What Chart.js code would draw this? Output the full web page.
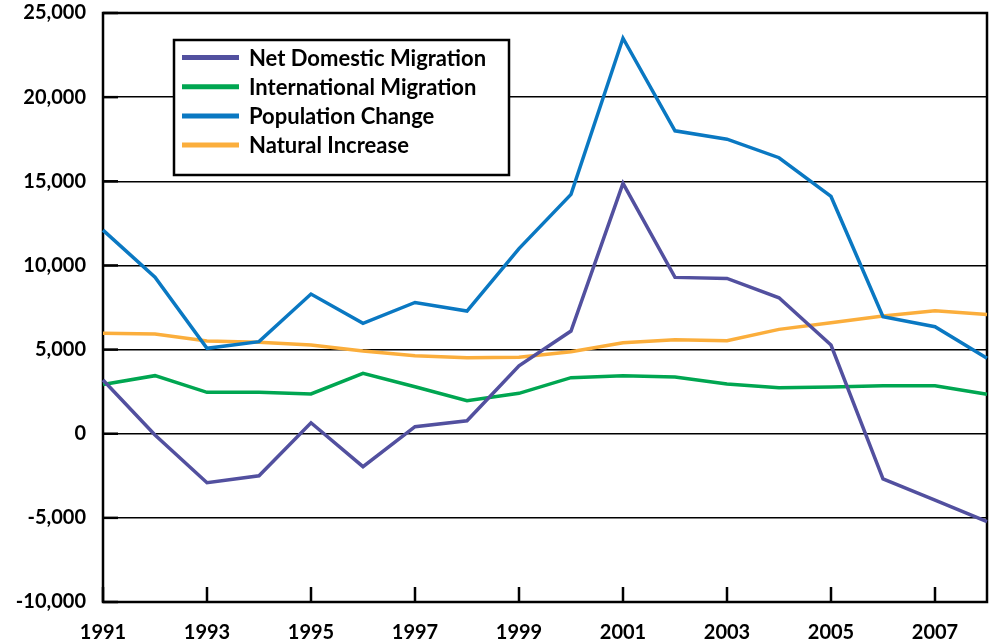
<!DOCTYPE html>
<html>
<head>
<meta charset="utf-8">
<script src="https://cdn.jsdelivr.net/npm/chart.js@4"></script>
<style>
  html, body { margin: 0; padding: 0; background: #fff; }
  #wrap { width: 993px; height: 643px; }
</style>
</head>
<body>
<div id="wrap"><canvas id="chart" width="993" height="643"></canvas></div>
<script>
// years along the x axis
const years = [1991, 1992, 1993, 1994, 1995, 1996, 1997, 1998, 1999,
               2000, 2001, 2002, 2003, 2004, 2005, 2006, 2007, 2008];

// values
const netDomestic = [3190, -80, -2910, -2500, 650, -1960, 420, 770, 4040,
                     6100, 14880, 9290, 9230, 8080, 5270, -2690, -3940, -5230];
const international = [2930, 3450, 2460, 2460, 2360, 3590, 2790, 1960, 2400,
                       3330, 3450, 3370, 2950, 2730, 2770, 2850, 2850, 2340];
const populationChange = [12100, 9300, 5075, 5470, 8300, 6560, 7800, 7290, 11000,
                          14220, 23500, 18000, 17500, 16400, 14100, 6950, 6360, 4480];
const naturalIncrease = [5970, 5920, 5510, 5430, 5270, 4910, 4630, 4520, 4540,
                         4870, 5410, 5590, 5530, 6200, 6600, 6990, 7310, 7090];

const seriesNames = ["Net Domestic Migration", "International Migration", "Population Change", "Natural Increase"];
const seriesColors = ["#52509f", "#00a651", "#0a78c2", "#fbae3c"];

const FONT = "Lato, 'Open Sans', sans-serif";

// frame, inner tick marks and the boxed legend
const framePlugin = {
    id: "frame",
    beforeDatasetsDraw(chart) {
        const a = chart.chartArea, ctx = chart.ctx;
        const x = chart.scales.x, y = chart.scales.y;
        ctx.save();
        ctx.strokeStyle = "#000";
        ctx.lineWidth = 2.5;
        ctx.strokeRect(a.left, a.top, a.right - a.left, a.bottom - a.top);
        years.forEach(function(yr, i) {
            if (yr % 2 === 1) {
                const px = x.getPixelForValue(i);
                ctx.beginPath();
                ctx.moveTo(px, a.bottom);
                ctx.lineTo(px, a.bottom - 15);
                ctx.stroke();
            }
        });
        for (let v = -10000; v <= 25000; v += 5000) {
            const py = y.getPixelForValue(v);
            ctx.beginPath();
            ctx.moveTo(a.left, py);
            ctx.lineTo(a.left + 15, py);
            ctx.stroke();
        }
        ctx.restore();
    },
    afterDraw(chart) {
        const ctx = chart.ctx;
        const bx = 174, by = 40, bw = 335, bh = 135;
        ctx.save();
        ctx.fillStyle = "#fff";
        ctx.fillRect(bx, by, bw, bh);
        ctx.strokeStyle = "#000";
        ctx.lineWidth = 2.5;
        ctx.strokeRect(bx, by, bw, bh);
        ctx.font = "bold 22px " + FONT;
        ctx.textBaseline = "middle";
        chart.data.datasets.forEach(function(ds, i) {
            const ly = 57.5 + i * 29.2;
            ctx.strokeStyle = ds.borderColor;
            ctx.lineWidth = 5;
            ctx.beginPath();
            ctx.moveTo(182, ly);
            ctx.lineTo(239, ly);
            ctx.stroke();
            ctx.fillStyle = "#000";
            ctx.fillText(ds.label, 249, ly + 1);
        });
        ctx.restore();
    }
};

const datasets = [netDomestic, international, populationChange, naturalIncrease].map(function(vals, i) {
    return {
        label: seriesNames[i],
        data: vals,
        borderColor: seriesColors[i],
        backgroundColor: seriesColors[i],
        borderWidth: 3.5,
        pointRadius: 0,
        tension: 0,
        fill: false
    };
});

new Chart(document.getElementById("chart").getContext("2d"), {
    type: "line",
    data: { labels: years.map(String), datasets: datasets },
    options: {
        responsive: false,
        animation: false,
        layout: { padding: { top: 13, right: 6, left: 0, bottom: 0 } },
        plugins: { legend: { display: false }, tooltip: { enabled: false } },
        scales: {
            x: {
                offset: false,
                grid: { display: false, drawTicks: false },
                border: { display: false },
                ticks: {
                    autoSkip: false,
                    maxRotation: 0,
                    padding: 19,
                    color: "#000",
                    font: { family: FONT, size: 20, weight: "bold" },
                    callback: function(v, i) { return years[i] % 2 === 1 ? String(years[i]) : ""; }
                },
                afterFit: function(s) { s.height = 41; s.paddingLeft = 0; s.paddingRight = 0; }
            },
            y: {
                min: -10000,
                max: 25000,
                grid: { color: "#000", lineWidth: 1.5, drawTicks: false },
                border: { display: false },
                ticks: {
                    stepSize: 5000,
                    padding: 17,
                    color: "#000",
                    font: { family: FONT, size: 20, weight: "bold" },
                    callback: function(v) { return v.toLocaleString("en-US"); }
                },
                afterFit: function(s) { s.width = 103; s.paddingTop = 0; s.paddingBottom = 0; }
            }
        }
    },
    plugins: [framePlugin]
});
</script>
</body>
</html>
